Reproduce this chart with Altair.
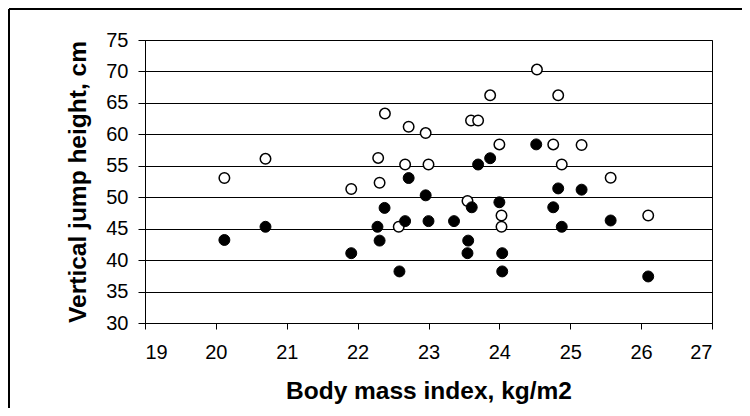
import altair as alt
import pandas as pd

# Open circles (white fill)
open_bmi = [20.12, 20.70, 21.91, 22.29, 22.31, 22.385, 22.58, 22.67, 22.72, 22.96,
            23.00, 23.55, 23.60, 23.70, 23.87, 24.00, 24.03, 24.03, 24.53, 24.76,
            24.83, 24.88, 25.16, 25.57, 26.10]
open_jump = [53.05, 56.1, 51.3, 56.25, 52.3, 63.3, 45.3, 55.2, 61.2, 60.2,
             55.2, 49.4, 62.2, 62.2, 66.2, 58.4, 47.1, 45.3, 70.3, 58.4,
             66.2, 55.2, 58.3, 53.1, 47.1]

# Filled circles (black)
filled_bmi = [20.12, 20.70, 21.91, 22.28, 22.31, 22.38, 22.59, 22.67, 22.72, 22.96,
              23.00, 23.36, 23.56, 23.55, 23.61, 23.70, 23.87, 24.00, 24.04, 24.04,
              24.52, 24.76, 24.83, 24.88, 25.16, 25.57, 26.10]
filled_jump = [43.2, 45.3, 41.1, 45.3, 43.1, 48.3, 38.2, 46.2, 53.05, 50.3,
               46.2, 46.2, 43.1, 41.1, 48.4, 55.2, 56.2, 49.2, 41.1, 38.2,
               58.4, 48.4, 51.4, 45.3, 51.2, 46.3, 37.4]

x_ticks = list(range(19, 28))
y_ticks = list(range(30, 80, 5))

df_open = pd.DataFrame({"bmi": open_bmi, "jump": open_jump})
df_filled = pd.DataFrame({"bmi": filled_bmi, "jump": filled_jump})
df_frame = pd.DataFrame({"k": [0]})

FONT = "Liberation Sans"

x_enc = alt.X("bmi:Q",
              scale=alt.Scale(domain=[19, 27], nice=False, zero=False),
              axis=alt.Axis(values=x_ticks, grid=False, title="Body mass index, kg/m2",
                            tickSize=6, labelPadding=13, titlePadding=17,
                            labelFontSize=20, titleFontSize=24.5))
y_enc = alt.Y("jump:Q",
              scale=alt.Scale(domain=[30, 75], nice=False, zero=False),
              axis=alt.Axis(values=y_ticks, grid=True, title="Vertical jump height, cm",
                            tickSize=7, labelPadding=10, titlePadding=15,
                            labelFontSize=20, titleFontSize=24.5))

open_layer = alt.Chart(df_open).mark_point(
    shape="circle", filled=True, fill="white", stroke="black", strokeWidth=1.5,
    size=110, opacity=1
).encode(x=x_enc, y=y_enc)

filled_layer = alt.Chart(df_filled).mark_point(
    shape="circle", filled=True, fill="black", stroke="black", strokeWidth=1,
    size=120, opacity=1
).encode(x=x_enc, y=y_enc)

frame_top = alt.Chart(df_frame).mark_rule(color="black", strokeWidth=2).encode(
    x=alt.value(-136), x2=alt.value(600), y=alt.value(-31))
frame_left = alt.Chart(df_frame).mark_rule(color="black", strokeWidth=2).encode(
    x=alt.value(-136), y=alt.value(-31), y2=alt.value(420))

chart = alt.layer(open_layer, filled_layer, frame_top, frame_left).properties(
    width=567, height=283,
    autosize=alt.AutoSizeParams(type="none"),
    padding={"left": 137, "top": 32, "right": 30, "bottom": 85},
    background="white",
).configure_view(
    stroke="black", strokeWidth=1
).configure_axis(
    labelFont=FONT, titleFont=FONT, labelColor="black", titleColor="black",
    domainColor="black", tickColor="black", gridColor="black",
    domainWidth=1, tickWidth=1, gridWidth=1, titleFontWeight="bold",
    gridOpacity=1, domainOpacity=1, tickOpacity=1
)

chart.save("out.html", embed_options={"renderer": "svg", "actions": False})
